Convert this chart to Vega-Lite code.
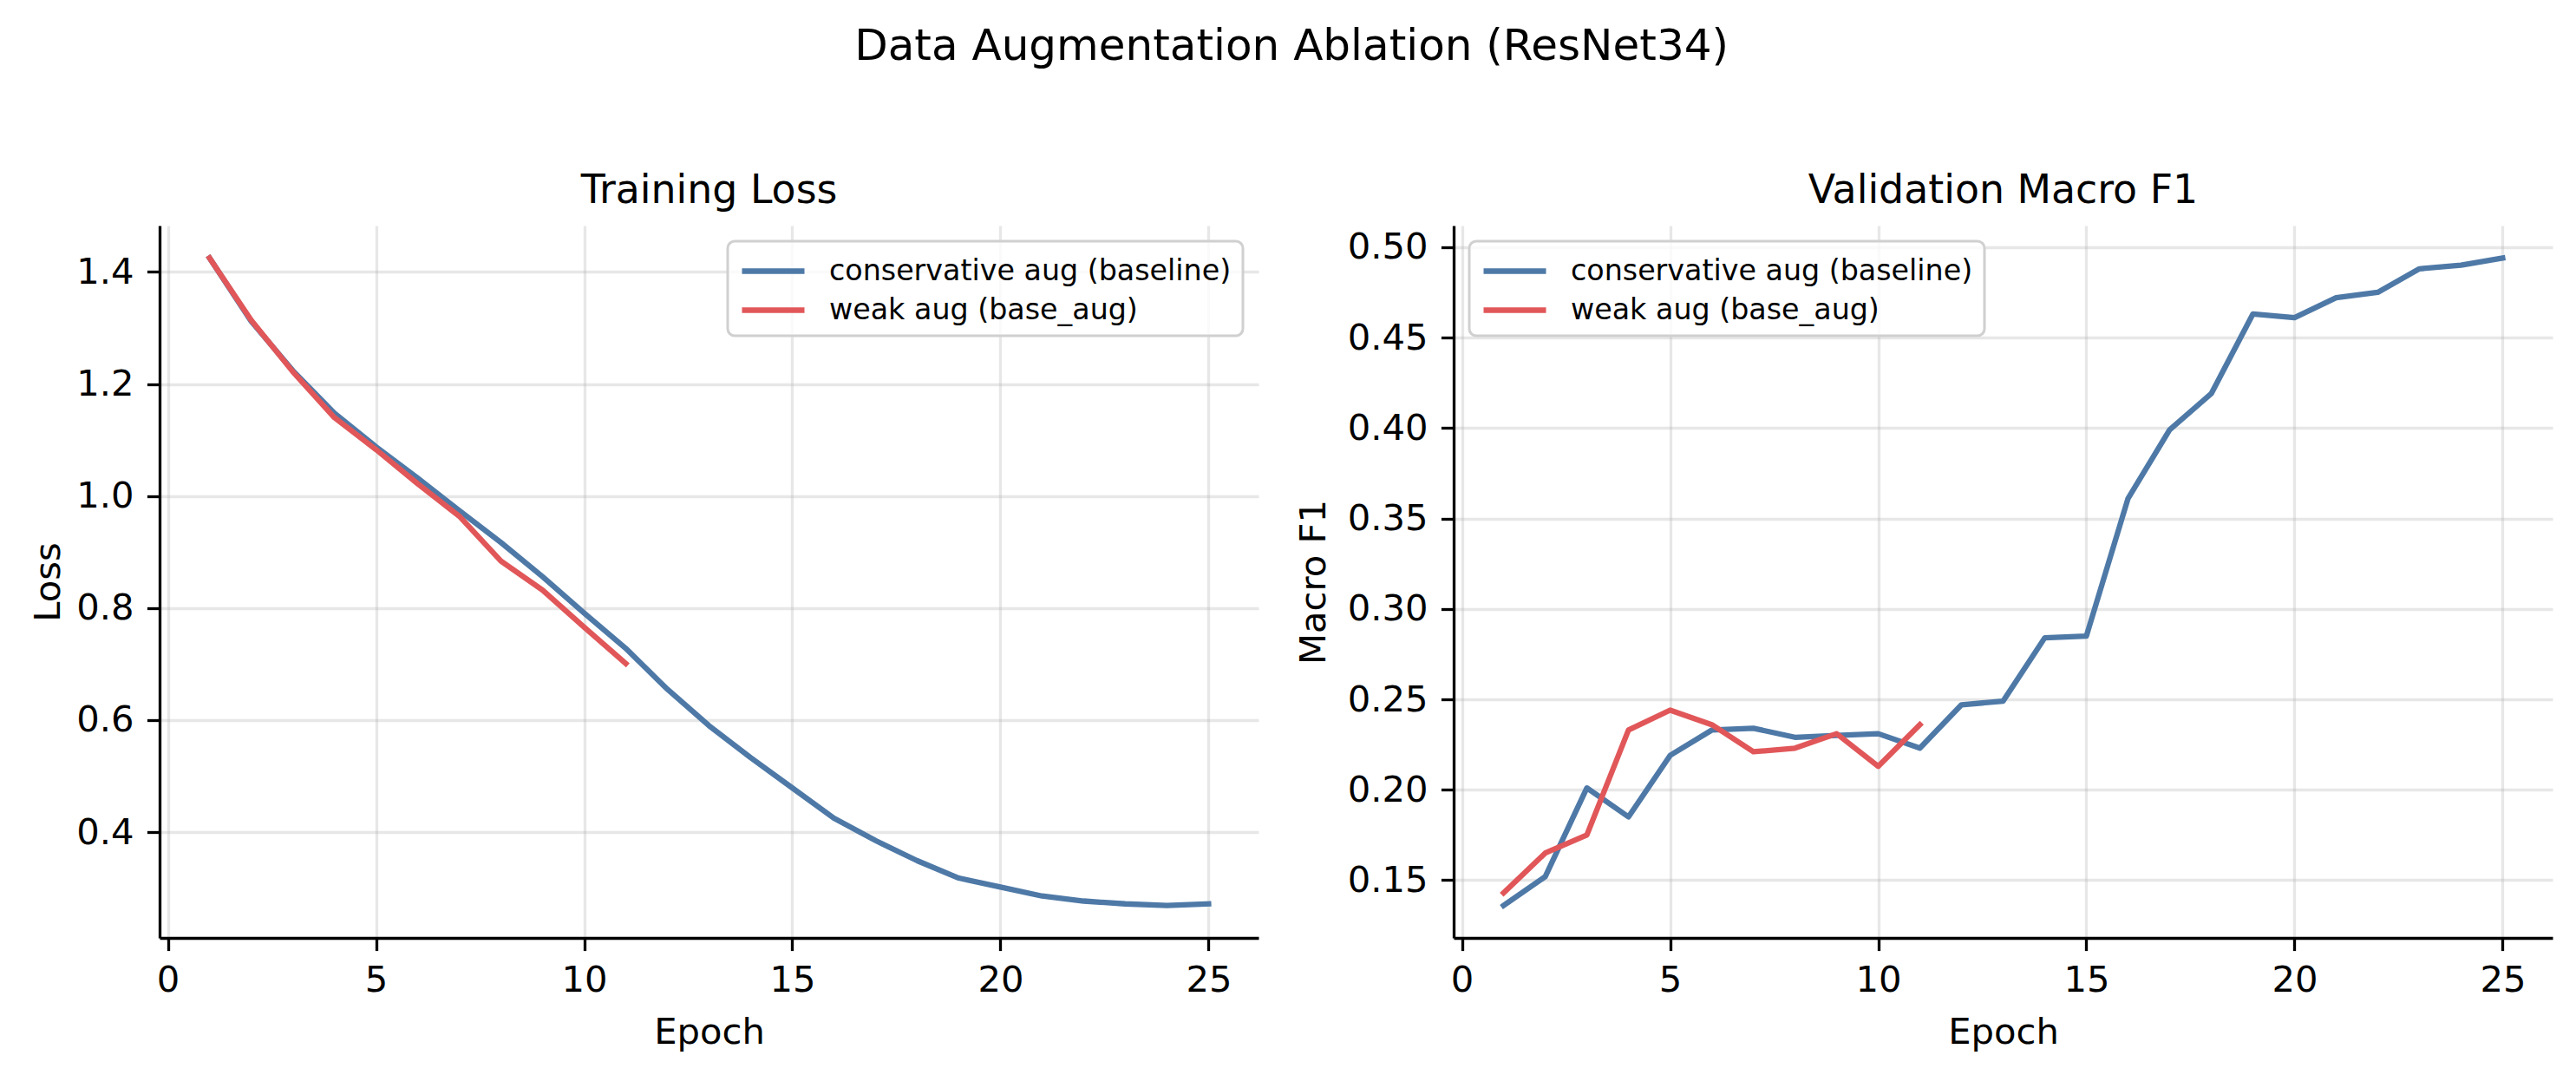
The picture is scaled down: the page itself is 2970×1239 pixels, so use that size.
{
  "$schema": "https://vega.github.io/schema/vega-lite/v6.json",
  "padding": {"left": 35, "top": 29, "right": 29, "bottom": 20},
  "title": {
    "text": "Data Augmentation Ablation (ResNet34)",
    "fontSize": 50,
    "fontWeight": "normal",
    "color": "black",
    "anchor": "middle",
    "offset": 118
  },
  "data": {
    "values": [
      {"epoch": 1, "run": "conservative aug (baseline)", "loss": 1.425, "f1": 0.136},
      {"epoch": 2, "run": "conservative aug (baseline)", "loss": 1.312, "f1": 0.152},
      {"epoch": 3, "run": "conservative aug (baseline)", "loss": 1.224, "f1": 0.201},
      {"epoch": 4, "run": "conservative aug (baseline)", "loss": 1.148, "f1": 0.185},
      {"epoch": 5, "run": "conservative aug (baseline)", "loss": 1.088, "f1": 0.219},
      {"epoch": 6, "run": "conservative aug (baseline)", "loss": 1.032, "f1": 0.233},
      {"epoch": 7, "run": "conservative aug (baseline)", "loss": 0.974, "f1": 0.234},
      {"epoch": 8, "run": "conservative aug (baseline)", "loss": 0.917, "f1": 0.229},
      {"epoch": 9, "run": "conservative aug (baseline)", "loss": 0.856, "f1": 0.230},
      {"epoch": 10, "run": "conservative aug (baseline)", "loss": 0.791, "f1": 0.231},
      {"epoch": 11, "run": "conservative aug (baseline)", "loss": 0.728, "f1": 0.223},
      {"epoch": 12, "run": "conservative aug (baseline)", "loss": 0.655, "f1": 0.247},
      {"epoch": 13, "run": "conservative aug (baseline)", "loss": 0.590, "f1": 0.249},
      {"epoch": 14, "run": "conservative aug (baseline)", "loss": 0.533, "f1": 0.284},
      {"epoch": 15, "run": "conservative aug (baseline)", "loss": 0.479, "f1": 0.285},
      {"epoch": 16, "run": "conservative aug (baseline)", "loss": 0.425, "f1": 0.361},
      {"epoch": 17, "run": "conservative aug (baseline)", "loss": 0.385, "f1": 0.399},
      {"epoch": 18, "run": "conservative aug (baseline)", "loss": 0.349, "f1": 0.419},
      {"epoch": 19, "run": "conservative aug (baseline)", "loss": 0.318, "f1": 0.463},
      {"epoch": 20, "run": "conservative aug (baseline)", "loss": 0.302, "f1": 0.461},
      {"epoch": 21, "run": "conservative aug (baseline)", "loss": 0.286, "f1": 0.472},
      {"epoch": 22, "run": "conservative aug (baseline)", "loss": 0.277, "f1": 0.475},
      {"epoch": 23, "run": "conservative aug (baseline)", "loss": 0.272, "f1": 0.488},
      {"epoch": 24, "run": "conservative aug (baseline)", "loss": 0.269, "f1": 0.490},
      {"epoch": 25, "run": "conservative aug (baseline)", "loss": 0.272, "f1": 0.494},
      {"epoch": 1, "run": "weak aug (base_aug)", "loss": 1.425, "f1": 0.143},
      {"epoch": 2, "run": "weak aug (base_aug)", "loss": 1.314, "f1": 0.165},
      {"epoch": 3, "run": "weak aug (base_aug)", "loss": 1.222, "f1": 0.175},
      {"epoch": 4, "run": "weak aug (base_aug)", "loss": 1.140, "f1": 0.233},
      {"epoch": 5, "run": "weak aug (base_aug)", "loss": 1.083, "f1": 0.244},
      {"epoch": 6, "run": "weak aug (base_aug)", "loss": 1.022, "f1": 0.236},
      {"epoch": 7, "run": "weak aug (base_aug)", "loss": 0.964, "f1": 0.221},
      {"epoch": 8, "run": "weak aug (base_aug)", "loss": 0.884, "f1": 0.223},
      {"epoch": 9, "run": "weak aug (base_aug)", "loss": 0.832, "f1": 0.231},
      {"epoch": 10, "run": "weak aug (base_aug)", "loss": 0.766, "f1": 0.213},
      {"epoch": 11, "run": "weak aug (base_aug)", "loss": 0.701, "f1": 0.236}
    ]
  },
  "spacing": 43,
  "resolve": {"legend": {"color": "independent"}},
  "hconcat": [
    {
      "width": 1267,
      "height": 821,
      "title": {"text": "Training Loss", "offset": 16},
      "mark": {"type": "line", "strokeWidth": 6.3, "strokeJoin": "round", "strokeCap": "square"},
      "encoding": {
        "x": {
          "field": "epoch",
          "type": "quantitative",
          "scale": {"domain": [-0.2, 26.2], "nice": false, "zero": false},
          "axis": {"title": "Epoch", "values": [0, 5, 10, 15, 20, 25]}
        },
        "y": {
          "field": "loss",
          "type": "quantitative",
          "scale": {"domain": [0.2112, 1.4828], "nice": false, "zero": false},
          "axis": {"title": "Loss", "values": [0.4, 0.6, 0.8, 1.0, 1.2, 1.4], "format": ".1f", "titlePadding": 10.5}
        },
        "color": {
          "field": "run",
          "type": "nominal",
          "scale": {
            "domain": ["conservative aug (baseline)", "weak aug (base_aug)"],
            "range": ["#4e79a7", "#e15759"]
          },
          "legend": {"orient": "top-right", "offset": 18, "title": null}
        }
      }
    },
    {
      "width": 1267,
      "height": 821,
      "title": {"text": "Validation Macro F1", "offset": 16},
      "mark": {"type": "line", "strokeWidth": 6.3, "strokeJoin": "round", "strokeCap": "square"},
      "encoding": {
        "x": {
          "field": "epoch",
          "type": "quantitative",
          "scale": {"domain": [-0.2, 26.2], "nice": false, "zero": false},
          "axis": {"title": "Epoch", "values": [0, 5, 10, 15, 20, 25]}
        },
        "y": {
          "field": "f1",
          "type": "quantitative",
          "scale": {"domain": [0.1181, 0.5119], "nice": false, "zero": false},
          "axis": {"title": "Macro F1", "values": [0.15, 0.2, 0.25, 0.3, 0.35, 0.4, 0.45, 0.5], "format": ".2f", "titlePadding": 17}
        },
        "color": {
          "field": "run",
          "type": "nominal",
          "scale": {
            "domain": ["conservative aug (baseline)", "weak aug (base_aug)"],
            "range": ["#4e79a7", "#e15759"]
          },
          "legend": {"orient": "top-left", "offset": 18, "title": null}
        }
      }
    }
  ],
  "config": {
    "font": "DejaVu Sans",
    "background": "white",
    "view": {"stroke": null},
    "title": {"fontSize": 45.8, "fontWeight": "normal", "color": "black"},
    "axis": {
      "labelFontSize": 41.7,
      "titleFontSize": 41.7,
      "titleFontWeight": "normal",
      "labelColor": "black",
      "titleColor": "black",
      "domainColor": "black",
      "domainWidth": 3.3,
      "tickColor": "black",
      "tickWidth": 3.3,
      "tickSize": 14.6,
      "grid": true,
      "gridColor": "#b0b0b0",
      "gridOpacity": 0.3,
      "gridWidth": 3.3
    },
    "axisX": {"labelPadding": 13.6, "titlePadding": 18.3, "labelFlush": false},
    "axisY": {"labelPadding": 15.4},
    "legend": {
      "labelFontSize": 33.3,
      "labelColor": "black",
      "labelLimit": 1000,
      "labelOffset": 61,
      "symbolType": "M-1,0H3",
      "symbolSize": 1296,
      "symbolStrokeWidth": 6.3,
      "rowPadding": 7,
      "padding": 13,
      "fillColor": "rgba(255,255,255,0.8)",
      "strokeColor": "#d0d0d0",
      "strokeWidth": 3,
      "cornerRadius": 8
    }
  }
}
